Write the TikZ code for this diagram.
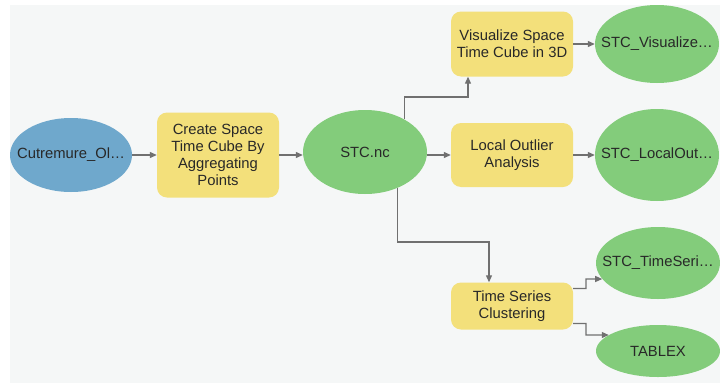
\documentclass[tikz,border=0pt]{standalone}
\usepackage{fontspec}
\setmainfont{Liberation Sans}
\usetikzlibrary{shapes.geometric,arrows.meta}
\definecolor{bgc}{RGB}{245,247,247}
\definecolor{inblue}{RGB}{111,168,204}
\definecolor{outgreen}{RGB}{131,204,123}
\definecolor{toolyel}{RGB}{243,224,123}
\definecolor{lnc}{RGB}{112,112,112}
\definecolor{txc}{RGB}{40,40,40}
\newcommand\zwtext[1]{\makebox[0pt]{#1}}
\begin{document}
\begin{tikzpicture}[x=1pt,y=-1pt,
  every node/.style={font=\fontsize{14.8}{17}\selectfont, text=txc, align=center, inner sep=0pt},
  inell/.style={ellipse, fill=inblue, minimum width=122pt, minimum height=74pt},
  outell/.style={ellipse, fill=outgreen, minimum width=124pt},
  toolbox/.style={rectangle, rounded corners=10pt, fill=toolyel, minimum width=122pt},
  conn/.style={draw=lnc, line width=1.2pt, -{Triangle[length=7pt,width=6pt]}}]
\useasboundingbox (0,0) rectangle (720,383);
\fill[white] (0,0) rectangle (720,383);
\fill[bgc] (10,5) rectangle (720,383);

\node[inell] (cut) at (71,155) {\zwtext{Cutremure\_Ol…}};
\node[toolbox, minimum height=85pt] (create) at (218,155) {Create Space\\Time Cube By\\Aggregating\\Points};
\node[outell, minimum height=84pt] (stc) at (365,152) {\zwtext{STC.nc}};
\node[toolbox, minimum height=65pt] (vis) at (512,44) {Visualize Space\\Time Cube in 3D};
\node[outell, minimum height=78pt] (visout) at (657,44) {\zwtext{STC\_Visualize…}};
\node[toolbox, minimum height=64pt] (lo) at (512,155) {Local Outlier\\Analysis};
\node[outell, minimum height=92pt] (loout) at (657,155) {\zwtext{STC\_LocalOut…}};
\node[toolbox, minimum height=47pt] (ts) at (512,306) {Time Series\\Clustering};
\node[outell, minimum height=72pt] (tsout) at (658,263) {\zwtext{STC\_TimeSeri…}};
\node[outell, minimum height=52pt] (tab) at (658,351) {\zwtext{TABLEX}};

\coordinate (b1) at (468,97);
\coordinate (b2) at (489,242);
\coordinate (b3) at (586,279);
\coordinate (b4) at (586,335);

\draw[conn] (cut) -- (create);
\draw[conn] (create.east) -- (create.east -| stc.west);
\draw[conn] (stc.40) |- (b1) -- (b1 |- vis.south);
\draw[conn] (stc.east |- lo.west) -- (lo.west);
\draw[conn] (stc.-48) |- (b2) -- (b2 |- ts.north);
\draw[conn] (vis) -- (visout);
\draw[conn] (lo) -- (loout);
\draw[conn] (ts.16) -| (b3) -- (tsout.196);
\draw[conn] (ts.-16) -| (b4) -- (tab.162);
\end{tikzpicture}
\end{document}
